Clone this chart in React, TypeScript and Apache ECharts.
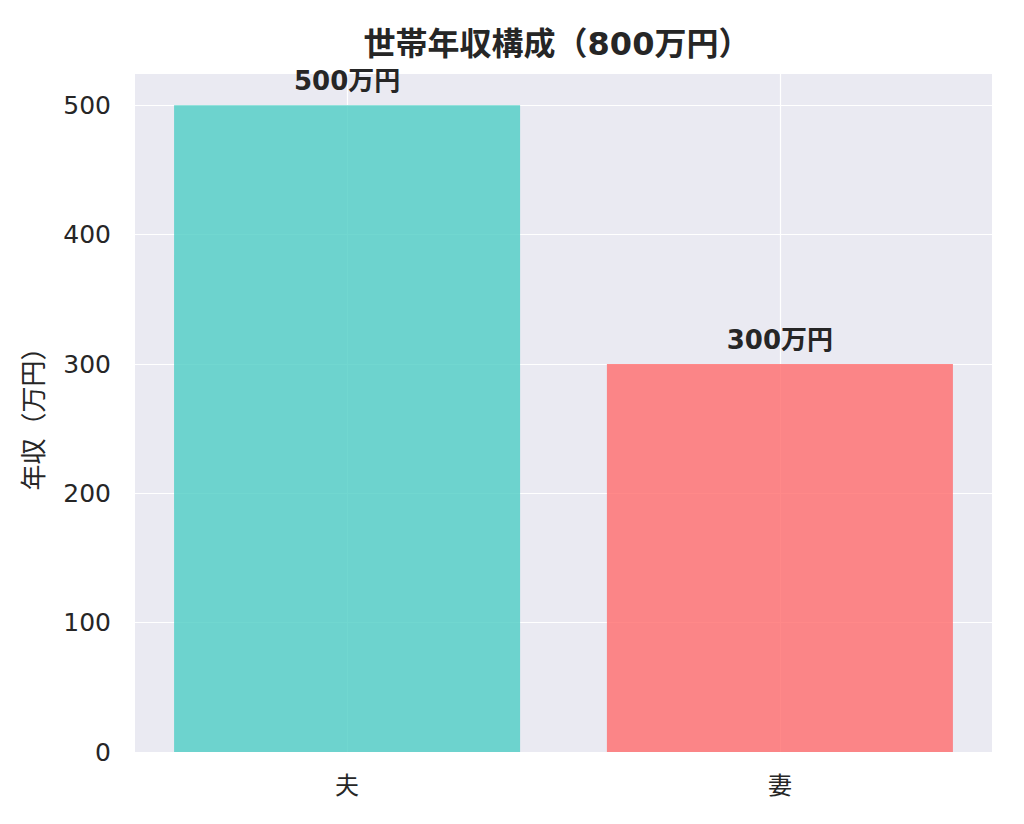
import React, { useEffect, useRef } from "react";
import * as echarts from "echarts";

const categories = ["夫", "妻"];
const incomes = [500, 300];
const barColors = ["rgba(78,205,196,0.8)", "rgba(255,107,107,0.8)"];
const yTicks = [0, 100, 200, 300, 400, 500];
const titleText = "世帯年収構成（800万円）";
const yName = "年収（万円）";

const FONT = "'DejaVu Sans', 'Noto Sans CJK JP', sans-serif";

export default function App() {
  const ref = useRef<HTMLDivElement>(null);
  useEffect(() => {
    if (!ref.current) return;
    const chart = echarts.init(ref.current, undefined, { renderer: "svg" });
    chart.setOption({
      animation: false,
      backgroundColor: "#ffffff",
      textStyle: { fontFamily: FONT },
      graphic: [
        {
          type: "text",
          x: 557,
          y: 44,
          style: {
            text: titleText,
            fontSize: 32,
            fontWeight: "bold",
            fontFamily: FONT,
            fill: "#262626",
            textAlign: "center",
            textVerticalAlign: "middle",
          },
        },
      ],
      grid: {
        left: 135,
        right: 32,
        top: 73,
        bottom: 72,
        show: true,
        backgroundColor: "#EAEAF2",
        borderWidth: 0,
      },
      xAxis: {
        type: "value",
        min: -0.49,
        max: 1.49,
        axisLine: { show: false },
        axisTick: { show: false, customValues: [0, 1] },
        axisLabel: {
          customValues: [0, 1],
          formatter: (v: number) => categories[Math.round(v)] ?? "",
          fontSize: 24,
          color: "#262626",
          margin: 22,
          fontFamily: FONT,
        },
        splitLine: { show: true, lineStyle: { color: "#ffffff", width: 1.2 } },
      },
      yAxis: {
        type: "value",
        min: 0,
        max: 525,
        interval: 100,
        name: yName,
        nameLocation: "middle",
        nameGap: 88,
        nameTextStyle: { fontSize: 26, color: "#262626", fontFamily: FONT },
        axisLine: { show: false },
        axisTick: { show: false },
        axisLabel: {
          fontSize: 25,
          color: "#262626",
          margin: 24,
          fontFamily: FONT,
          showMaxLabel: false,
          formatter: (v: number) => (yTicks.includes(v) ? String(v) : ""),
        },
        splitLine: { show: true, lineStyle: { color: "#ffffff", width: 1.2 } },
      },
      series: [
        {
          type: "bar",
          barWidth: 346,
          data: incomes.map((v, i) => ({
            value: [i, v],
            itemStyle: { color: barColors[i] },
          })),
          label: {
            show: true,
            position: "top",
            distance: 11,
            formatter: (p: any) => `${p.value[1]}万円`,
            fontSize: 26,
            fontWeight: "bold",
            color: "#262626",
            fontFamily: FONT,
          },
        },
      ],
    });
    return () => chart.dispose();
  }, []);
  return (
    <div
      ref={ref}
      style={{ position: "fixed", left: 0, top: 0, width: 1024, height: 824 }}
    />
  );
}
